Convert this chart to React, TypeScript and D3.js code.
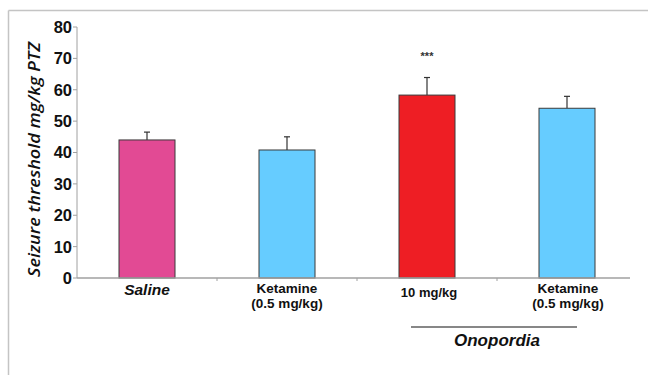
import React from "react";
import * as d3 from "d3";

const categories = ["Saline", "Ketamine", "Onopordia10", "OnopordiaKetamine"];
const means = [44, 40.8, 58.3, 54.1];
const errors = [2.5, 4.2, 5.6, 3.8];
const barColors = ["#E24A94", "#66CCFF", "#EE1E24", "#66CCFF"];
const yTicks = [0, 10, 20, 30, 40, 50, 60, 70, 80];
const significance = ["", "", "***", ""];

const W = 648;
const H = 375;
const FONT = "'Liberation Sans', Arial, sans-serif";

export default function App() {
  const x = d3.scaleBand<string>().domain(categories).range([77, 637]).paddingInner(0.6).paddingOuter(0.3);
  const y = d3.scaleLinear().domain([0, 80]).range([278, 27]);
  const bw = x.bandwidth();
  const step = x.step();
  const boundaries = [1, 2, 3].map((i) => 77 + i * step);

  return (
    <svg width={W} height={H} style={{ position: "absolute", left: 0, top: 0, background: "#fff" }}>
      <rect x={0} y={0} width={W} height={H} fill="#fff" />
      {/* frame */}
      <line x1={8.5} y1={10.5} x2={W} y2={10.5} stroke="#c4c4c4" strokeWidth={1.5} />
      <line x1={8.5} y1={10.5} x2={8.5} y2={H} stroke="#c4c4c4" strokeWidth={1.5} />

      {/* y axis */}
      <line x1={77} y1={y(80)} x2={77} y2={y(0)} stroke="#a0a0a0" strokeWidth={1} />
      {yTicks.map((t) => (
        <g key={t}>
          <line x1={73} x2={77} y1={y(t)} y2={y(t)} stroke="#a0a0a0" />
          <text x={72} y={y(t)} dy="0.36em" textAnchor="end" fontFamily={FONT} fontWeight="bold" fontSize={16.5} fill="#111">
            {t}
          </text>
        </g>
      ))}
      <text
        transform={`translate(40,159.5) rotate(-90)`}
        textAnchor="middle"
        fontFamily="'Open Sans', sans-serif"
        fontWeight={600}
        fontStyle="italic"
        fontSize={16}
        fill="#111"
        textLength={235}
        lengthAdjust="spacingAndGlyphs"
      >
        Seizure threshold mg/kg PTZ
      </text>

      {/* bars */}
      {categories.map((c, i) => {
        const bx = x(c)!;
        const cx = bx + bw / 2;
        return (
          <g key={c}>
            <line x1={cx} x2={cx} y1={y(means[i])} y2={y(means[i] + errors[i])} stroke="#333" strokeWidth={1.2} />
            <line x1={cx - 3} x2={cx + 3} y1={y(means[i] + errors[i])} y2={y(means[i] + errors[i])} stroke="#333" strokeWidth={1.2} />
            <rect x={bx} y={y(means[i])} width={bw} height={y(0) - y(means[i])} fill={barColors[i]} stroke="#3a3a3a" strokeWidth={1} />
            {significance[i] && (
              <text x={cx} y={y(means[i] + errors[i]) - 18} textAnchor="middle" fontFamily={FONT} fontWeight="bold" fontSize={11} fill="#333">
                {significance[i]}
              </text>
            )}
          </g>
        );
      })}

      {/* x axis */}
      <line x1={77} x2={630} y1={y(0)} y2={y(0)} stroke="#a0a0a0" strokeWidth={1.5} />
      {boundaries.map((b) => (
        <line key={b} x1={b} x2={b} y1={y(0)} y2={y(0) + 3} stroke="#a0a0a0" />
      ))}

      {/* x labels */}
      <text x={x("Saline")! + bw / 2} y={295} textAnchor="middle" fontFamily={FONT} fontWeight="bold" fontStyle="italic" fontSize={15.5} fill="#111">
        Saline
      </text>
      <text x={x("Ketamine")! + bw / 2} y={293} textAnchor="middle" fontFamily={FONT} fontWeight="bold" fontSize={13.5} fill="#111">
        Ketamine
      </text>
      <text x={x("Ketamine")! + bw / 2} y={307.5} textAnchor="middle" fontFamily={FONT} fontWeight="bold" fontSize={13.5} fill="#111">
        (0.5 mg/kg)
      </text>
      <text x={x("Onopordia10")! + bw / 2 + 2} y={297} textAnchor="middle" fontFamily={FONT} fontWeight="bold" fontSize={13} fill="#111">
        10 mg/kg
      </text>
      <text x={x("OnopordiaKetamine")! + bw / 2 + 1} y={293} textAnchor="middle" fontFamily={FONT} fontWeight="bold" fontSize={13.5} fill="#111">
        Ketamine
      </text>
      <text x={x("OnopordiaKetamine")! + bw / 2 + 1} y={307.5} textAnchor="middle" fontFamily={FONT} fontWeight="bold" fontSize={13.5} fill="#111">
        (0.5 mg/kg)
      </text>
      <line x1={411} x2={577} y1={327} y2={327} stroke="#111" strokeWidth={1.2} />
      <text x={497} y={346} textAnchor="middle" fontFamily={FONT} fontWeight="bold" fontStyle="italic" fontSize={17} fill="#111">
        Onopordia
      </text>
    </svg>
  );
}
